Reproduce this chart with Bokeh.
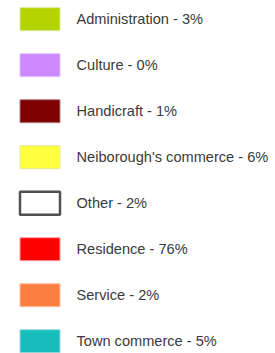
from bokeh.plotting import figure
from bokeh.models import ColumnDataSource, Range1d
from bokeh.core.properties import value
from bokeh.embed import file_html
from bokeh.resources import INLINE

categories = ["Administration", "Culture", "Handicraft", "Neiborough's commerce",
              "Other", "Residence", "Service", "Town commerce"]
percent = [3, 0, 1, 6, 2, 76, 2, 5]
colors = ["#b4d400", "#cc88ff", "#7f0000", "#ffff40",
          "#ffffff", "#ff0000", "#ff7f40", "#18bdbd"]
outline = ["#d8e8a0", "#e0c0ff", "#b08080", "#e8e8a0",
           "#505050", "#ffa0a0", "#ffc0a0", "#a0d8d8"]
outline_w = [1, 1, 1, 1, 2.5, 1, 1, 1]

labels = [f"{c} - {p}%" for c, p in zip(categories, percent)]
idx = list(range(len(categories)))

src = ColumnDataSource(dict(y=idx, label=labels, color=colors,
                            outline=outline, lw=outline_w,
                            sx=[39.5] * len(idx), tx=[76] * len(idx)))

p = figure(width=275, height=353, output_backend="svg", toolbar_location=None,
           x_range=Range1d(0, 275), y_range=Range1d(7.267, -0.4065),
           min_border=0, outline_line_color=None)
p.axis.visible = False
p.grid.visible = False
p.background_fill_color = "white"
p.border_fill_color = "white"

p.rect(x="sx", y="y", width=40, height=23, width_units="screen", height_units="screen",
       fill_color="color", line_color="outline", line_width="lw", source=src)
p.text(x="tx", y="y", text="label", source=src, text_baseline="middle",
       text_align="left", text_font=value("Liberation Sans"),
       text_font_size="14.6px", text_color="#3a3a3a")

open("out.html", "w").write(file_html(p, INLINE))
